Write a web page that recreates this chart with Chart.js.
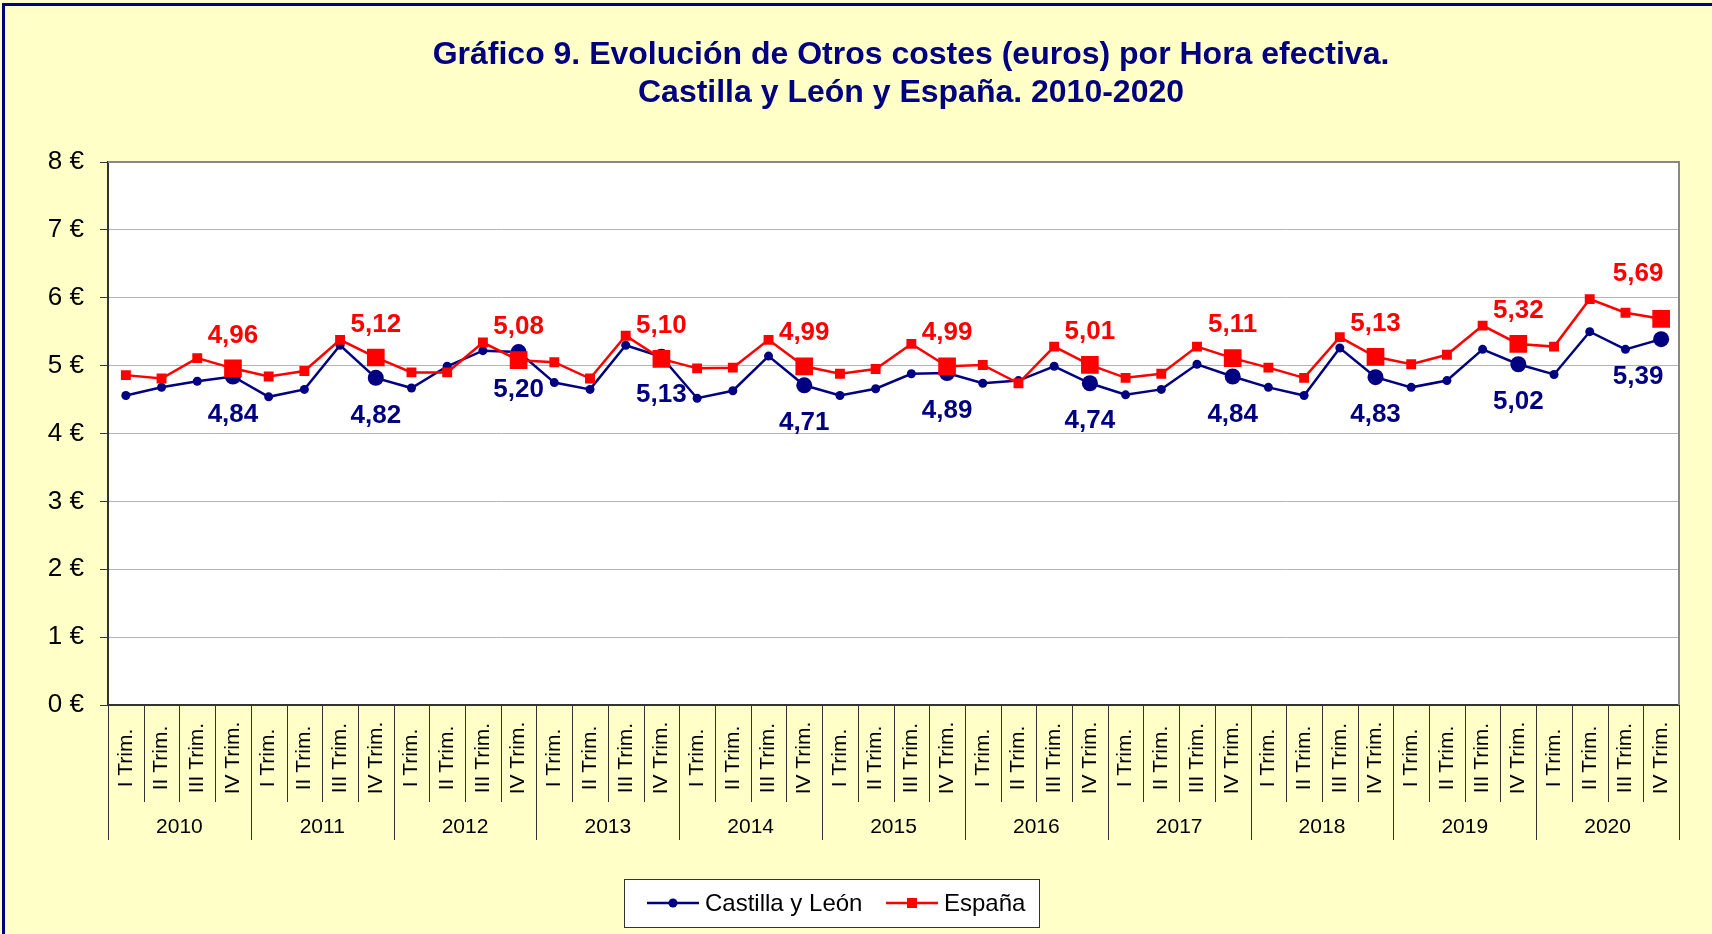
<!DOCTYPE html>
<html>
<head>
<meta charset="utf-8">
<script src="https://cdn.jsdelivr.net/npm/chart.js@4.4.0/dist/chart.umd.min.js"></script>
<style>
  html, body { margin: 0; padding: 0; background: #FFFFC8; }
  canvas { display: block; }
</style>
</head>
<body>
<canvas id="myChart" width="1712" height="934"></canvas>
<script>
const titleLines = ['Gráfico 9. Evolución de Otros costes (euros) por Hora efectiva.', 'Castilla y León y España. 2010-2020'];
const years = ['2010', '2011', '2012', '2013', '2014', '2015', '2016', '2017', '2018', '2019', '2020'];
const quarters = ['I Trim.', 'II Trim.', 'III Trim.', 'IV Trim.'];
const castillaLeon = [
    4.56, 4.68, 4.77, 4.84,
    4.54, 4.65, 5.30, 4.82,
    4.67, 4.99, 5.22, 5.20,
    4.75, 4.65, 5.30, 5.13,
    4.52, 4.63, 5.14, 4.71,
    4.56, 4.66, 4.88, 4.89,
    4.74, 4.78, 4.99, 4.74,
    4.57, 4.65, 5.02, 4.84,
    4.68, 4.56, 5.26, 4.83,
    4.68, 4.78, 5.24, 5.02,
    4.87, 5.50, 5.24, 5.39
];
const espana = [
    4.86, 4.81, 5.11, 4.96,
    4.84, 4.92, 5.38, 5.12,
    4.90, 4.90, 5.34, 5.08,
    5.05, 4.81, 5.44, 5.10,
    4.96, 4.97, 5.38, 4.99,
    4.88, 4.95, 5.32, 4.99,
    5.01, 4.74, 5.28, 5.01,
    4.82, 4.88, 5.28, 5.11,
    4.97, 4.82, 5.42, 5.13,
    5.02, 5.16, 5.59, 5.32,
    5.28, 5.98, 5.78, 5.69
];
const yTicks = [0, 1, 2, 3, 4, 5, 6, 7, 8];

const labels = [];
years.forEach(y => quarters.forEach(q => labels.push(q)));

const FONT = '"Liberation Sans", Arial, sans-serif';
const isIV = i => i % 4 === 3;
const fmt = v => v.toFixed(2).replace('.', ',');

/* fondo, marco y titulo */
const frame = {
    id: 'frame',
    beforeDraw(chart) {
        const ctx = chart.ctx, a = chart.chartArea;
        ctx.save();
        ctx.fillStyle = '#FFFFC8';
        ctx.fillRect(0, 0, chart.width, chart.height);
        ctx.fillStyle = '#FFFFFF';
        ctx.fillRect(a.left, a.top, a.right - a.left, a.bottom - a.top);
        ctx.strokeStyle = '#000080';
        ctx.lineWidth = 3;
        ctx.beginPath();
        ctx.moveTo(3.5, chart.height);
        ctx.lineTo(3.5, 4.5);
        ctx.lineTo(chart.width, 4.5);
        ctx.stroke();
        ctx.fillStyle = '#000080';
        ctx.font = 'bold 32px ' + FONT;
        ctx.textAlign = 'center';
        ctx.textBaseline = 'middle';
        ctx.fillText(titleLines[0], 911, 55);
        ctx.fillText(titleLines[1], 911, 93);
        ctx.restore();
    },
    afterDraw(chart) {
        const ctx = chart.ctx, a = chart.chartArea;
        const xs = chart.scales.x;
        ctx.save();
        // borde superior y derecho del area
        ctx.strokeStyle = '#888888';
        ctx.lineWidth = 2;
        ctx.beginPath();
        ctx.moveTo(a.left, a.top);
        ctx.lineTo(a.right, a.top);
        ctx.lineTo(a.right, a.bottom);
        ctx.stroke();

        // tabla del eje X
        const w = (a.right - a.left) / labels.length;
        ctx.strokeStyle = '#333333';
        ctx.lineWidth = 1;
        for (let k = 0; k <= labels.length; k++) {
            const x = Math.round(a.left + k * w) + 0.5;
            ctx.beginPath();
            ctx.moveTo(x, a.bottom);
            ctx.lineTo(x, k % 4 === 0 ? 840 : 802);
            ctx.stroke();
        }
        ctx.fillStyle = '#000000';
        ctx.font = '21px ' + FONT;
        ctx.textAlign = 'center';
        ctx.textBaseline = 'middle';
        labels.forEach((lab, i) => {
            const x = xs.getPixelForValue(i);
            ctx.save();
            ctx.translate(x, 758);
            ctx.rotate(-Math.PI / 2);
            ctx.fillText(lab, 0, 0);
            ctx.restore();
        });
        years.forEach((y, j) => {
            const x = (xs.getPixelForValue(j * 4) + xs.getPixelForValue(j * 4 + 3)) / 2;
            ctx.fillText(y, x, 827);
        });

        // leyenda
        ctx.fillStyle = '#FFFFFF';
        ctx.fillRect(624, 879, 415, 48);
        ctx.strokeStyle = '#333333';
        ctx.strokeRect(624.5, 879.5, 415, 48);
        const items = [
            { ds: chart.data.datasets[0], x: 647 },
            { ds: chart.data.datasets[1], x: 886 }
        ];
        const ly = 903;
        items.forEach(it => {
            ctx.strokeStyle = it.ds.borderColor;
            ctx.lineWidth = 2.5;
            ctx.beginPath();
            ctx.moveTo(it.x, ly);
            ctx.lineTo(it.x + 52, ly);
            ctx.stroke();
            ctx.fillStyle = it.ds.borderColor;
            if (it.ds.pointStyle === 'rect') {
                ctx.fillRect(it.x + 21, ly - 5, 10, 10);
            } else {
                ctx.beginPath();
                ctx.arc(it.x + 26, ly, 4.5, 0, Math.PI * 2);
                ctx.fill();
            }
            ctx.fillStyle = '#000000';
            ctx.font = '24px ' + FONT;
            ctx.textAlign = 'left';
            ctx.fillText(it.ds.label, it.x + 58, ly + 1);
        });
        ctx.restore();
    }
};

/* etiquetas de valor en el IV trimestre */
const valueLabels = {
    id: 'valueLabels',
    afterDatasetsDraw(chart) {
        const ctx = chart.ctx;
        ctx.save();
        ctx.font = 'bold 26px ' + FONT;
        ctx.textAlign = 'center';
        ctx.textBaseline = 'middle';
        chart.data.datasets.forEach((ds, d) => {
            const meta = chart.getDatasetMeta(d);
            ds.data.forEach((v, i) => {
                if (!isIV(i)) return;
                const pt = meta.data[i];
                const last = i === ds.data.length - 1;
                let dx = last ? -23 : 0;
                let dy = ds.labelBelow ? 38 : (last ? -45 : -33);
                ctx.fillStyle = ds.borderColor;
                ctx.fillText(fmt(v), pt.x + dx, pt.y + dy);
            });
        });
        ctx.restore();
    }
};

const ctx1 = document.getElementById('myChart').getContext('2d');
const myChart = new Chart(ctx1, {
    type: 'line',
    data: {
        labels: labels,
        datasets: [
            {
                label: 'Castilla y León',
                data: castillaLeon,
                borderColor: '#000080',
                backgroundColor: '#000080',
                borderWidth: 2.5,
                pointStyle: 'circle',
                pointRadius: ctx => isIV(ctx.dataIndex) ? 8 : 4.5,
                pointBorderWidth: 0,
                tension: 0,
                order: 1,
                labelBelow: true
            },
            {
                label: 'España',
                data: espana,
                borderColor: '#FF0000',
                backgroundColor: '#FF0000',
                borderWidth: 2.5,
                pointStyle: 'rect',
                pointRadius: ctx => isIV(ctx.dataIndex) ? 12.5 : 7,
                pointBorderWidth: 0,
                tension: 0,
                order: 0,
                labelBelow: false
            }
        ]
    },
    options: {
        responsive: false,
        animation: false,
        devicePixelRatio: 1,
        layout: {
            padding: { top: 162, right: 33, bottom: 229, left: 0 }
        },
        plugins: {
            legend: { display: false },
            title: { display: false },
            tooltip: { enabled: false }
        },
        scales: {
            x: {
                type: 'category',
                offset: true,
                grid: { display: false },
                ticks: { display: false },
                border: { display: true, color: '#333333', width: 2 },
                afterFit: s => { s.height = 0; }
            },
            y: {
                min: 0,
                max: 8,
                afterBuildTicks: s => { s.ticks = yTicks.map(v => ({ value: v })); },
                afterFit: s => { s.width = 108; },
                grid: {
                    color: '#B4B4B4',
                    borderDash: [1, 2],
                    lineWidth: 1,
                    drawTicks: true,
                    tickLength: 8,
                    tickColor: '#333333',
                    tickBorderDash: [],
                    tickWidth: 1
                },
                border: { display: true, color: '#333333', width: 2 },
                ticks: {
                    padding: 16,
                    color: '#000000',
                    font: { family: FONT, size: 26 },
                    callback: v => v + ' €'
                }
            }
        }
    },
    plugins: [frame, valueLabels]
});
</script>
</body>
</html>
